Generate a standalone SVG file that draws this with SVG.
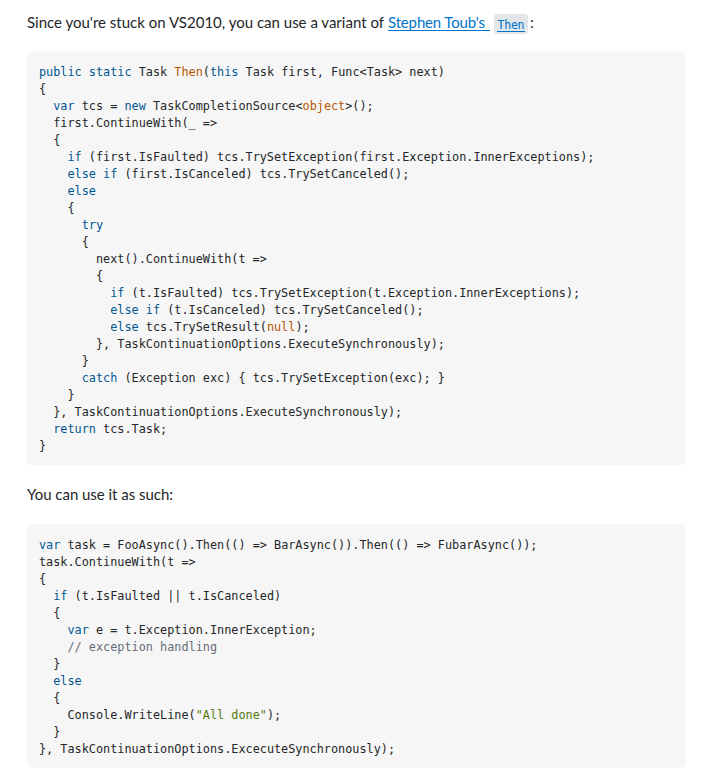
<svg xmlns="http://www.w3.org/2000/svg" width="706" height="780" viewBox="0 0 706 780">
<style>
.body{font-family:Lato,"Open Sans","Liberation Sans",sans-serif;font-size:15px;fill:#232629}
.link{font-family:Lato,"Open Sans","Liberation Sans",sans-serif;font-size:15px;fill:#0074cc}
.c{font-family:"DejaVu Sans Mono","Liberation Mono",monospace;font-size:11.83px;fill:#242729}
.k{fill:#015692}
.l{fill:#b75501}
.s{fill:#54790d}
.cm{fill:#656e77}
.box{fill:#f6f6f6}
</style>
<rect width="706" height="780" fill="#ffffff"/>
<g id="intro">
<text class="body" x="27" y="28" textLength="357" lengthAdjust="spacing">Since you're stuck on VS2010, you can use a variant of</text>
<text class="link" x="388" y="28" textLength="97" lengthAdjust="spacing">Stephen Toub's</text>
<line x1="388" y1="30.5" x2="490" y2="30.5" stroke="#0074cc" stroke-width="1"/>
<rect x="494" y="14" width="34" height="20" rx="3" fill="#e3e6e8"/>
<text x="497.5" y="29" font-family="DejaVu Sans Mono,Liberation Mono,monospace" font-size="11.5" fill="#0074cc" textLength="27" lengthAdjust="spacing">Then</text>
<line x1="497" y1="31.5" x2="525" y2="31.5" stroke="#0074cc" stroke-width="1"/>
<text class="body" x="530" y="28">:</text>
</g>
<g id="code1">
<rect class="box" x="27" y="51.5" width="659" height="414" rx="5"/>
<text class="c" x="39" y="76"><tspan class="k">public</tspan> <tspan class="k">static</tspan> Task <tspan class="l">Then</tspan>(<tspan class="k">this</tspan> Task first, Func&lt;Task&gt; next)</text>
<text class="c" x="39" y="93">{</text>
<text class="c" x="53.24" y="110"><tspan class="k">var</tspan> tcs = <tspan class="k">new</tspan> TaskCompletionSource&lt;<tspan class="l">object</tspan>&gt;();</text>
<text class="c" x="53.24" y="127">first.ContinueWith(_ =&gt;</text>
<text class="c" x="53.24" y="144">{</text>
<text class="c" x="67.48" y="161"><tspan class="k">if</tspan> (first.IsFaulted) tcs.TrySetException(first.Exception.InnerExceptions);</text>
<text class="c" x="67.48" y="178"><tspan class="k">else</tspan> <tspan class="k">if</tspan> (first.IsCanceled) tcs.TrySetCanceled();</text>
<text class="c" x="67.48" y="195"><tspan class="k">else</tspan></text>
<text class="c" x="67.48" y="212">{</text>
<text class="c" x="81.72" y="229"><tspan class="k">try</tspan></text>
<text class="c" x="81.72" y="246">{</text>
<text class="c" x="95.96" y="263">next().ContinueWith(t =&gt;</text>
<text class="c" x="95.96" y="280">{</text>
<text class="c" x="110.2" y="297"><tspan class="k">if</tspan> (t.IsFaulted) tcs.TrySetException(t.Exception.InnerExceptions);</text>
<text class="c" x="110.2" y="314"><tspan class="k">else</tspan> <tspan class="k">if</tspan> (t.IsCanceled) tcs.TrySetCanceled();</text>
<text class="c" x="110.2" y="331"><tspan class="k">else</tspan> tcs.TrySetResult(<tspan class="l">null</tspan>);</text>
<text class="c" x="95.96" y="348">}, TaskContinuationOptions.ExecuteSynchronously);</text>
<text class="c" x="81.72" y="365">}</text>
<text class="c" x="81.72" y="382"><tspan class="k">catch</tspan> (Exception exc) { tcs.TrySetException(exc); }</text>
<text class="c" x="67.48" y="399">}</text>
<text class="c" x="53.24" y="416">}, TaskContinuationOptions.ExecuteSynchronously);</text>
<text class="c" x="53.24" y="433"><tspan class="k">return</tspan> tcs.Task;</text>
<text class="c" x="39" y="450">}</text>
</g>
<g id="middle">
<text class="body" x="27" y="500" textLength="146" lengthAdjust="spacing">You can use it as such:</text>
</g>
<g id="code2">
<rect class="box" x="27" y="524" width="659" height="244" rx="5"/>
<text class="c" x="39" y="549"><tspan class="k">var</tspan> task = FooAsync().Then(() =&gt; BarAsync()).Then(() =&gt; FubarAsync());</text>
<text class="c" x="39" y="566">task.ContinueWith(t =&gt;</text>
<text class="c" x="39" y="583">{</text>
<text class="c" x="53.24" y="600"><tspan class="k">if</tspan> (t.IsFaulted || t.IsCanceled)</text>
<text class="c" x="53.24" y="617">{</text>
<text class="c" x="67.48" y="634"><tspan class="k">var</tspan> e = t.Exception.InnerException;</text>
<text class="c" x="67.48" y="651"><tspan class="cm">// exception handling</tspan></text>
<text class="c" x="53.24" y="668">}</text>
<text class="c" x="53.24" y="685"><tspan class="k">else</tspan></text>
<text class="c" x="53.24" y="702">{</text>
<text class="c" x="67.48" y="719">Console.WriteLine(<tspan class="s">"All done"</tspan>);</text>
<text class="c" x="53.24" y="736">}</text>
<text class="c" x="39" y="753">}, TaskContinuationOptions.ExcecuteSynchronously);</text>
</g>
</svg>
